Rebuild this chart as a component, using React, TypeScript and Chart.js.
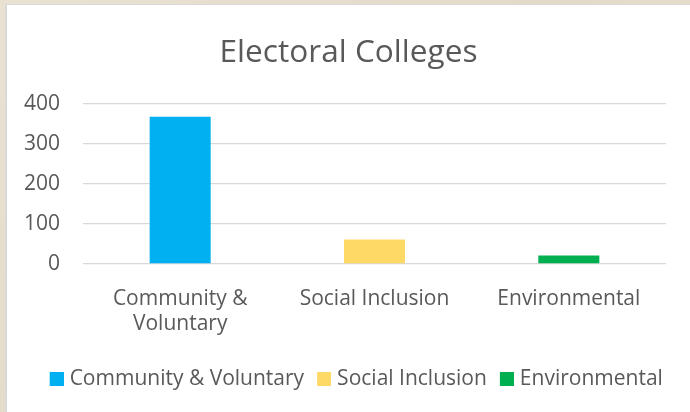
import { useEffect, useRef } from "react";
import { Chart, registerables } from "chart.js";

Chart.register(...registerables);

const chartTitle = "Electoral Colleges";
const categories = ["Community & Voluntary", "Social Inclusion", "Environmental"];
const axisLabels = [["Community &", "Voluntary"], ["Social Inclusion"], ["Environmental"]];
const values = [368, 61, 21];
const barColors = ["#00B0F0", "#FFD966", "#00B050"];
const yMin = 0;
const yMax = 400;
const yStep = 100;

const TEXT = "#595959";
const FONT = "'Open Sans', 'Noto Sans', sans-serif";

function makeSwatch(color: string): HTMLCanvasElement {
  const c = document.createElement("canvas");
  c.width = 34;
  c.height = 14;
  const ctx = c.getContext("2d")!;
  ctx.fillStyle = color;
  ctx.fillRect(20, 0, 14, 14);
  return c;
}

export default function App() {
  const ref = useRef<HTMLCanvasElement | null>(null);

  useEffect(() => {
    if (!ref.current) return;
    const swatches = barColors.map(makeSwatch);
    const chart = new Chart(ref.current, {
      type: "bar",
      data: {
        labels: axisLabels,
        datasets: [
          {
            label: chartTitle,
            data: values,
            backgroundColor: barColors,
            borderWidth: 0,
            categoryPercentage: 1,
            barPercentage: 0.314,
          },
        ],
      },
      options: {
        animation: false,
        responsive: false,
        maintainAspectRatio: false,
        layout: { padding: { left: 23, right: 16, top: 0, bottom: 12.5 } },
        plugins: {
          tooltip: { enabled: false },
          title: {
            display: true,
            text: chartTitle,
            color: TEXT,
            font: { family: FONT, size: 31.6, weight: "normal", lineHeight: 1.2 },
            padding: { top: 34.5, bottom: 31.6 },
          },
          legend: {
            display: true,
            position: "bottom",
            align: "center",
            title: { display: true, text: "", font: { size: 3, lineHeight: 1 }, padding: 0 },
            labels: {
              usePointStyle: true,
              pointStyleWidth: 25,
              padding: -2.5,
              color: TEXT,
              font: { family: FONT, size: 21 },
              generateLabels: () =>
                categories.map((text, i) => ({
                  text,
                  fillStyle: barColors[i],
                  strokeStyle: barColors[i],
                  lineWidth: 0,
                  pointStyle: swatches[i],
                  hidden: false,
                  index: i,
                  fontColor: TEXT,
                })),
            },
          },
        },
        scales: {
          x: {
            grid: { display: false },
            border: { display: false },
            ticks: {
              color: TEXT,
              font: { family: FONT, size: 21, lineHeight: 1.17 },
              padding: 15,
              maxRotation: 0,
              autoSkip: false,
            },
            afterFit: (s: any) => {
              s.height = 104;
            },
          },
          y: {
            min: yMin,
            max: yMax,
            grid: { color: "#d9d9d9", lineWidth: 1.3, drawTicks: false },
            border: { display: false },
            ticks: {
              stepSize: yStep,
              color: TEXT,
              font: { family: FONT, size: 21 },
              padding: 23,
            },
            afterFit: (s: any) => {
              s.width = 60;
            },
          },
          yRight: {
            position: "right",
            display: true,
            min: yMin,
            max: yMax,
            grid: { display: false, drawTicks: false },
            border: { display: false },
            ticks: { display: false },
            afterFit: (s: any) => {
              s.width = 8;
            },
          },
        },
      },
    });
    return () => chart.destroy();
  }, []);

  return (
    <div
      style={{
        position: "fixed",
        left: 0,
        top: 0,
        width: 690,
        height: 412,
        overflow: "hidden",
        background: "linear-gradient(135deg, #e9e1d2 0%, #e4dac8 50%, #e9e0d0 100%)",
      }}
    >
      <div
        style={{
          position: "absolute",
          left: 5,
          top: 4,
          width: 700,
          height: 420,
          background: "#ffffff",
          borderLeft: "2px solid #d9d9d9",
          borderTop: "1px solid #d9d9d9",
        }}
      />
      <canvas
        ref={ref}
        width={690}
        height={412}
        style={{ position: "absolute", left: 0, top: 0, width: 690, height: 412 }}
      />
    </div>
  );
}
